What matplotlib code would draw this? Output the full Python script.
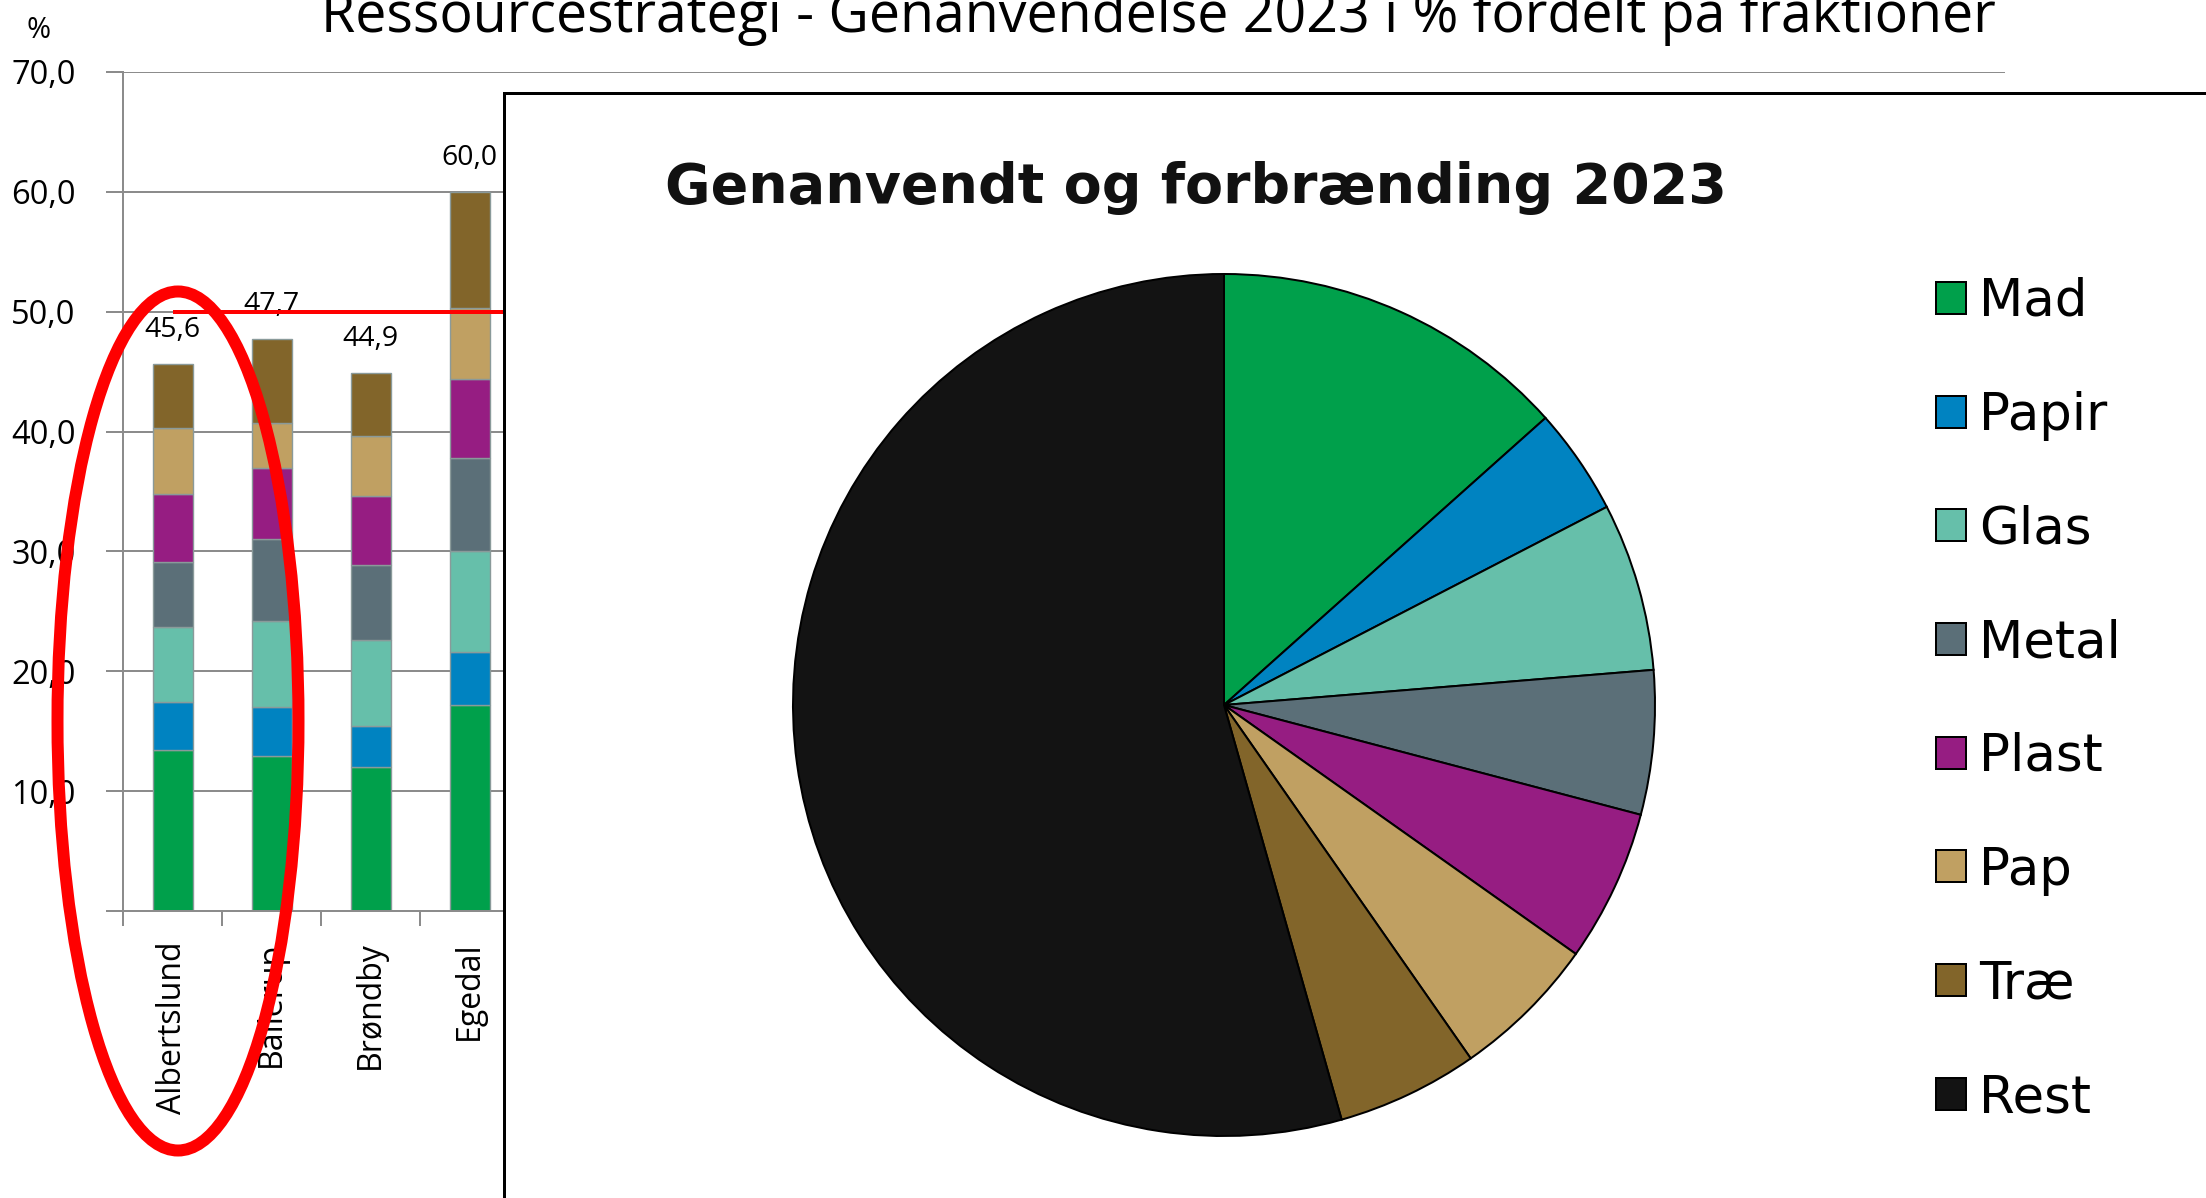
import matplotlib
matplotlib.use("Agg")
import matplotlib.pyplot as plt
from matplotlib.patches import Ellipse, Patch, Rectangle

W, H = 2206, 1198
PT = 0.72  # points per pixel at dpi 100

# data
municipalities = ["Albertslund", "Ballerup", "Brøndby", "Egedal"]
fractions = ["Mad", "Papir", "Glas", "Metal", "Plast", "Pap", "Træ"]
mad = [13.4, 12.9, 12.0, 17.2]
papir = [4.0, 4.1, 3.4, 4.4]
glas = [6.3, 7.2, 7.2, 8.4]
metal = [5.4, 6.8, 6.3, 7.8]
plast = [5.7, 6.0, 5.7, 6.6]
pap = [5.5, 3.7, 5.0, 5.9]
trae = [5.3, 7.0, 5.3, 9.7]
totals = [45.6, 47.7, 44.9, 60.0]
target = 50.0

pie_labels = ["Mad", "Papir", "Glas", "Metal", "Plast", "Pap", "Træ", "Rest"]
pie_values = [13.4, 4.0, 6.3, 5.4, 5.7, 5.5, 5.3, 54.4]

y_ticks = [0, 10, 20, 30, 40, 50, 60, 70]
y_ticklabels = ["-", "10,0", "20,0", "30,0", "40,0", "50,0", "60,0", "70,0"]

colors = {
    "Mad": "#00a04b",
    "Papir": "#0083c1",
    "Glas": "#66bfaa",
    "Metal": "#5b6f78",
    "Plast": "#961d82",
    "Pap": "#c0a062",
    "Træ": "#82652a",
    "Rest": "#131313",
}

plt.rcParams["font.family"] = "Open Sans"

fig = plt.figure(figsize=(W / 100, H / 100), dpi=100)

# ---- stacked bar chart (most of it sits behind the pasted pie) ----
ax = fig.add_axes([123 / W, 1 - 911 / H, (2005 - 123) / W, (911 - 72) / H], zorder=1)
x = list(range(len(municipalities)))
bottom = [0.0] * len(municipalities)
for name, vals in zip(fractions, [mad, papir, glas, metal, plast, pap, trae]):
    ax.bar(x, vals, 0.404, bottom=bottom, color=colors[name],
           edgecolor="#8a9a9a", linewidth=1.0, zorder=2)
    bottom = [b + v for b, v in zip(bottom, vals)]

for xi, t in zip(x, totals):
    ax.annotate(f"{t:.1f}".replace(".", ","), (xi, t), xytext=(0, 27 * PT),
                textcoords="offset points", ha="center", va="baseline",
                fontsize=20.5)

ax.hlines(target, 0, 18.5, color="#ff0000", linewidth=4 * PT, zorder=3)

# 19 municipalities in the original chart
ax.set_xlim(-0.5, 18.5)
ax.set_ylim(0, 70)
ax.set_yticks(y_ticks)
ax.set_yticklabels(y_ticklabels, fontsize=23.5)
ax.set_xticks(x)
ax.set_xticklabels(municipalities, rotation=90, fontsize=23)
ax.set_xticks([i - 0.5 for i in range(20)], minor=True)
ax.tick_params(axis="x", which="major", length=0, pad=22)
ax.tick_params(axis="x", which="minor", length=11, width=2 * PT, color="#8c8c8c",
               direction="out")
ax.tick_params(axis="y", length=12, width=2 * PT, color="#8c8c8c", pad=22)
ax.grid(axis="y", color="#8c8c8c", linewidth=2 * PT, zorder=0)
ax.set_axisbelow(True)
for side in ["top", "right"]:
    ax.spines[side].set_visible(False)
for side in ["left", "bottom"]:
    ax.spines[side].set_color("#8c8c8c")
    ax.spines[side].set_linewidth(2 * PT)

fig.text(39 / W, 1 - 30 / H, "%", ha="center", va="center", fontsize=21)
fig.text(1158 / W, 1 - 32 / H,
         "Ressourcestrategi - Genanvendelse 2023 i % fordelt på fraktioner",
         ha="center", va="baseline", fontsize=40)

# ---- overlay: red ellipse and the pasted pie box ----
ov = fig.add_axes([0, 0, 1, 1], zorder=2)
ov.set_xlim(0, W)
ov.set_ylim(H, 0)
ov.axis("off")
ov.patch.set_visible(False)
ov.add_patch(Ellipse((178, 721), 241, 859, fill=False, edgecolor="#ff0000",
                     linewidth=12 * PT))
ov.add_patch(Rectangle((504, 93), 1800, 1200, facecolor="white",
                       edgecolor="black", linewidth=3 * PT, clip_on=False))

pax = fig.add_axes([(1224 - 431) / W, 1 - (705 + 431) / H, 862 / W, 862 / H], zorder=3)
pax.pie(pie_values, colors=[colors[n] for n in pie_labels], startangle=90,
        counterclock=False, wedgeprops={"edgecolor": "black", "linewidth": 2 * PT})
pax.set_xlim(-1, 1)
pax.set_ylim(-1, 1)
pax.set_aspect("equal")

fig.text(665 / W, 1 - 203 / H, "Genanvendt og forbrænding 2023", ha="left",
         va="baseline", fontsize=40, fontweight="bold", family="DejaVu Sans",
         color="#111111", zorder=5)

handles = [Patch(facecolor=colors[n], edgecolor="black", linewidth=2 * PT)
           for n in pie_labels]
fig.legend(handles, pie_labels, loc="upper left",
           bbox_to_anchor=(1936 / W, 1 - 277 / H), frameon=False,
           prop={"family": "DejaVu Sans", "size": 37},
           handlelength=0.58, handleheight=0.58, handletextpad=0.25,
           labelspacing=1.24, borderpad=0, borderaxespad=0)

fig.savefig("out.png", dpi=100)
